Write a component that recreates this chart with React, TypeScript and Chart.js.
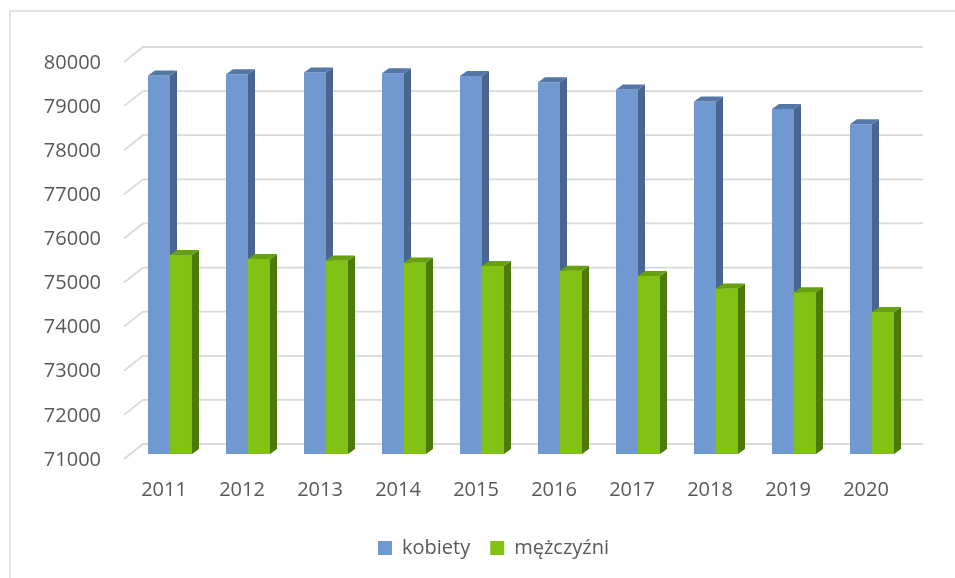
import React, { useEffect, useRef } from 'react';
import { Chart, registerables } from 'chart.js';

Chart.register(...registerables);

// ---- data ----
const years = ['2011', '2012', '2013', '2014', '2015', '2016', '2017', '2018', '2019', '2020'];
const kobiety = [79578, 79610, 79646, 79633, 79571, 79429, 79261, 78989, 78823, 78476];
const mezczyzni = [75512, 75422, 75384, 75339, 75263, 75157, 75036, 74750, 74666, 74220];
const seriesNames = ['kobiety', 'mężczyźni'];
const yMin = 71000;
const yMax = 80000;
const yStep = 1000;

// ---- styles ----
const frontColors = ['#6f99d0', '#82c214'];
const sideColors = ['#4a6590', '#4d7a0b'];
const topColors = ['#5577a8', '#67a010'];
const textColor = '#595959';
const gridColor = '#d9d9d9';
const FONT = "'Open Sans', 'Noto Sans', sans-serif";

const BAR_DX = 7;
const BAR_DY = 5;
const WALL_DX = 12;
const WALL_DY = 10;
const FRONT_DX = 7;
const FRONT_DY = 5;
const LEGEND_SHIFT = 38;

const threeD = {
  id: 'threeD',
  afterLayout(chart: any) {
    if (chart.legend) {
      chart.legend.left += LEGEND_SHIFT;
      chart.legend.right += LEGEND_SHIFT;
    }
  },
  beforeDraw(chart: any) {
    const { ctx } = chart;
    ctx.save();
    ctx.strokeStyle = gridColor;
    ctx.lineWidth = 1.5;
    ctx.strokeRect(10, 11, 2000, 2000);
    ctx.restore();
  },
  beforeDatasetsDraw(chart: any) {
    const { ctx, chartArea: a, scales } = chart;
    const y = scales.y;
    ctx.save();
    ctx.strokeStyle = gridColor;
    ctx.lineWidth = 1.8;
    y.ticks.forEach((t: any) => {
      const py = y.getPixelForValue(t.value);
      ctx.beginPath();
      ctx.moveTo(a.left - FRONT_DX, py + FRONT_DY);
      ctx.lineTo(a.left + WALL_DX, py - WALL_DY);
      ctx.lineTo(a.right + WALL_DX, py - WALL_DY);
      ctx.stroke();
    });
    ctx.restore();
  },
  afterDatasetsDraw(chart: any) {
    const { ctx } = chart;
    chart.data.datasets.forEach((_ds: any, di: number) => {
      const meta = chart.getDatasetMeta(di);
      meta.data.forEach((bar: any) => {
        if (di > 0) bar.draw(ctx);
        const { x, y, base, width } = bar.getProps(['x', 'y', 'base', 'width'], true);
        const l = x - width / 2;
        const r = x + width / 2;
        ctx.save();
        ctx.fillStyle = sideColors[di];
        ctx.beginPath();
        ctx.moveTo(r, y);
        ctx.lineTo(r + BAR_DX, y - BAR_DY);
        ctx.lineTo(r + BAR_DX, base - BAR_DY);
        ctx.lineTo(r, base);
        ctx.closePath();
        ctx.fill();
        ctx.fillStyle = topColors[di];
        ctx.beginPath();
        ctx.moveTo(l, y);
        ctx.lineTo(l + BAR_DX, y - BAR_DY);
        ctx.lineTo(r + BAR_DX, y - BAR_DY);
        ctx.lineTo(r, y);
        ctx.closePath();
        ctx.fill();
        ctx.restore();
      });
    });
  },
};

export default function App() {
  const ref = useRef<HTMLCanvasElement>(null);

  useEffect(() => {
    if (!ref.current) return;
    const chart = new Chart(ref.current, {
      type: 'bar',
      data: {
        labels: years,
        datasets: [
          {
            label: seriesNames[0],
            data: kobiety,
            base: yMin,
            backgroundColor: frontColors[0],
            borderWidth: 0,
            categoryPercentage: 0.564,
            barPercentage: 1,
          },
          {
            label: seriesNames[1],
            data: mezczyzni,
            base: yMin,
            backgroundColor: frontColors[1],
            borderWidth: 0,
            categoryPercentage: 0.564,
            barPercentage: 1,
          },
        ],
      },
      options: {
        responsive: false,
        animation: false,
        devicePixelRatio: 1,
        layout: { padding: { left: 0, right: 44, top: 57, bottom: 10 } },
        scales: {
          x: {
            grid: { display: false, drawTicks: false },
            border: { display: false },
            ticks: {
              font: { family: FONT, size: 20 },
              color: textColor,
              padding: 24,
              labelOffset: -6,
            },
            afterFit: (s: any) => {
              s.height = 64;
            },
          },
          y: {
            min: yMin,
            max: yMax,
            grid: { display: false, drawTicks: false },
            border: { display: false },
            ticks: {
              stepSize: yStep,
              font: { family: FONT, size: 20 },
              color: textColor,
              padding: 30,
              labelOffset: 6,
              callback: (v: any) => String(v),
            },
            afterFit: (s: any) => {
              s.width = 131;
            },
          },
        },
        plugins: {
          legend: {
            position: 'bottom',
            labels: {
              boxWidth: 14,
              boxHeight: 14,
              padding: 20,
              color: textColor,
              font: { family: FONT, size: 20 },
            },
          },
          tooltip: { enabled: false },
        },
      },
      plugins: [threeD],
    });
    return () => chart.destroy();
  }, []);

  return (
    <div style={{ position: 'absolute', left: 0, top: 0, width: 955, height: 578, background: '#fff' }}>
      <canvas ref={ref} width={955} height={578} style={{ display: 'block' }} />
    </div>
  );
}
